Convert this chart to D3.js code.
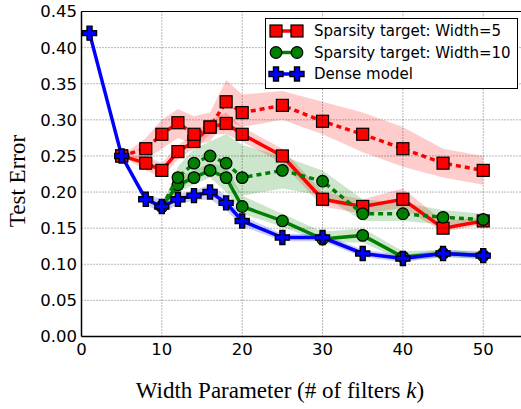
<!DOCTYPE html>
<head>
  <meta charset="utf-8">
  <script src="https://d3js.org/d3.v7.min.js"></script>
  <style>
    body { margin: 0; background: white; }
    .tick-label { font-family: "DejaVu Sans", sans-serif; font-size: 16.5px; fill: black; }
    .axis-title { font-family: "Liberation Serif", "Times New Roman", serif; font-size: 23px; fill: black; }
    .legend-text { font-family: "DejaVu Sans", sans-serif; font-size: 15px; fill: black; }
  </style>
</head>

<body>
  <script>

    // --- data ---
    var kSparse = [5, 8, 10, 12, 14, 16, 18, 20, 25, 30, 35, 40, 45, 50];
    var w5Solid = [0.25, 0.24, 0.23, 0.256, 0.27, 0.29, 0.295, 0.28, 0.25, 0.19, 0.18, 0.19, 0.15, 0.16];
    var w5SolidLo = [0.25, 0.23, 0.22, 0.245, 0.26, 0.28, 0.28, 0.27, 0.24, 0.18, 0.17, 0.178, 0.145, 0.155];
    var w5SolidHi = [0.25, 0.25, 0.24, 0.265, 0.28, 0.30, 0.31, 0.29, 0.26, 0.20, 0.19, 0.205, 0.16, 0.165];
    var w5Dash = [0.25, 0.26, 0.28, 0.296, 0.28, 0.29, 0.325, 0.31, 0.32, 0.298, 0.28, 0.26, 0.24, 0.23];
    var w5DashLo = [0.25, 0.245, 0.26, 0.275, 0.265, 0.27, 0.30, 0.29, 0.30, 0.28, 0.255, 0.235, 0.22, 0.21];
    var w5DashHi = [0.25, 0.275, 0.30, 0.315, 0.305, 0.31, 0.355, 0.335, 0.34, 0.325, 0.31, 0.29, 0.26, 0.25];

    var kW10 = [10, 12, 14, 16, 18, 20, 25, 30, 35, 40, 45, 50];
    var w10Solid = [0.18, 0.21, 0.22, 0.23, 0.22, 0.18, 0.16, 0.135, 0.14, 0.11, 0.115, 0.112];
    var w10SolidLo = [0.18, 0.20, 0.21, 0.22, 0.20, 0.17, 0.152, 0.13, 0.13, 0.105, 0.11, 0.108];
    var w10SolidHi = [0.18, 0.22, 0.23, 0.24, 0.235, 0.195, 0.17, 0.145, 0.15, 0.118, 0.12, 0.118];
    var w10Dash = [0.18, 0.22, 0.24, 0.25, 0.24, 0.22, 0.23, 0.215, 0.17, 0.17, 0.165, 0.162];
    var w10DashLo = [0.18, 0.20, 0.22, 0.23, 0.22, 0.195, 0.205, 0.195, 0.16, 0.16, 0.155, 0.155];
    var w10DashHi = [0.18, 0.235, 0.26, 0.27, 0.28, 0.265, 0.25, 0.23, 0.19, 0.185, 0.175, 0.17];

    var kDense = [1, 5, 8, 10, 12, 14, 16, 18, 20, 25, 30, 35, 40, 45, 50];
    var dense = [0.42, 0.25, 0.19, 0.18, 0.19, 0.195, 0.2, 0.185, 0.16, 0.137, 0.137, 0.115, 0.108, 0.115, 0.112];
    var denseLo = [0.42, 0.25, 0.183, 0.17, 0.183, 0.188, 0.19, 0.175, 0.153, 0.132, 0.132, 0.11, 0.103, 0.11, 0.107];
    var denseHi = [0.42, 0.25, 0.197, 0.19, 0.197, 0.202, 0.21, 0.195, 0.167, 0.142, 0.142, 0.12, 0.113, 0.12, 0.117];

    var xTicks = [0, 10, 20, 30, 40, 50];
    var yTicks = [0, 0.05, 0.10, 0.15, 0.20, 0.25, 0.30, 0.35, 0.40, 0.45];
    var legendLabels = ["Sparsity target: Width=5", "Sparsity target: Width=10", "Dense model"];

    var svg = d3.select("body").append("svg")
      .attr("width", 521)
      .attr("height", 409);

    var x = d3.scaleLinear().domain([0, 55]).range([81.5, 523.4]);
    var y = d3.scaleLinear().domain([0, 0.45]).range([336.5, 11.5]);

    function zip(ks, vs) {
      return ks.map(function(k, i) { return {k: k, v: vs[i]}; });
    }
    function zipBand(ks, lo, hi) {
      return ks.map(function(k, i) { return {k: k, lo: lo[i], hi: hi[i]}; });
    }

    var line = d3.line()
      .x(function(d) { return x(d.k); })
      .y(function(d) { return y(d.v); });

    var area = d3.area()
      .x(function(d) { return x(d.k); })
      .y0(function(d) { return y(d.lo); })
      .y1(function(d) { return y(d.hi); });

    var series = [
      {k: kSparse, v: w5Solid, lo: w5SolidLo, hi: w5SolidHi, color: "#ff0000", dash: null, marker: "square"},
      {k: kSparse, v: w5Dash, lo: w5DashLo, hi: w5DashHi, color: "#ff0000", dash: "5,4", marker: "square"},
      {k: kW10, v: w10Solid, lo: w10SolidLo, hi: w10SolidHi, color: "#008000", dash: null, marker: "circle"},
      {k: kW10, v: w10Dash, lo: w10DashLo, hi: w10DashHi, color: "#008000", dash: "5,4", marker: "circle"},
      {k: kDense, v: dense, lo: denseLo, hi: denseHi, color: "#0000ff", dash: null, marker: "plus"}
    ];

    var plot = svg.append("g");

    // bands first
    series.forEach(function(s) {
      plot.append("path")
        .datum(zipBand(s.k, s.lo, s.hi))
        .attr("d", area)
        .attr("fill", s.color)
        .attr("fill-opacity", 0.2)
        .attr("stroke", "none");
    });

    var plusPath = "M-2.5,-7H2.5V-2.5H7V2.5H2.5V7H-2.5V2.5H-7V-2.5H-2.5Z";

    function drawMarker(g, type, cx, cy, color) {
      if (type == "square") {
        g.append("rect")
          .attr("x", cx - 6).attr("y", cy - 6)
          .attr("width", 12).attr("height", 12)
          .attr("fill", color).attr("stroke", "#000").attr("stroke-width", 1.2);
      } else if (type == "circle") {
        g.append("circle")
          .attr("cx", cx).attr("cy", cy).attr("r", 5.8)
          .attr("fill", color).attr("stroke", "#000").attr("stroke-width", 1.2);
      } else {
        g.append("path")
          .attr("d", plusPath)
          .attr("transform", "translate(" + cx + "," + cy + ")")
          .attr("fill", color).attr("stroke", "#000").attr("stroke-width", 1.4);
      }
    }

    series.forEach(function(s) {
      var pts = zip(s.k, s.v);
      plot.append("path")
        .datum(pts)
        .attr("d", line)
        .attr("fill", "none")
        .attr("stroke", s.color)
        .attr("stroke-width", 3.5)
        .style("stroke-dasharray", s.dash);
      pts.forEach(function(d) {
        drawMarker(plot, s.marker, x(d.k), y(d.v), s.color);
      });
    });

    // grid (drawn above the data, like the original)
    svg.selectAll(".gx").data(xTicks.slice(1)).enter().append("line")
      .attr("x1", function(d) { return x(d); })
      .attr("x2", function(d) { return x(d); })
      .attr("y1", y(0)).attr("y2", y(0.45))
      .attr("stroke", "#000").attr("stroke-width", 1)
      .style("stroke-dasharray", "1,2").style("opacity", 0.55);

    svg.selectAll(".gy").data(yTicks.slice(1)).enter().append("line")
      .attr("x1", x(0)).attr("x2", 521)
      .attr("y1", function(d) { return y(d); })
      .attr("y2", function(d) { return y(d); })
      .attr("stroke", "#000").attr("stroke-width", 1)
      .style("stroke-dasharray", "1,2").style("opacity", 0.55);

    // spines
    svg.append("line").attr("x1", x(0)).attr("x2", 521).attr("y1", y(0)).attr("y2", y(0))
      .attr("stroke", "#000").attr("stroke-width", 1.5);
    svg.append("line").attr("x1", x(0)).attr("x2", 521).attr("y1", y(0.45)).attr("y2", y(0.45))
      .attr("stroke", "#000").attr("stroke-width", 1);
    svg.append("line").attr("x1", x(0)).attr("x2", x(0)).attr("y1", y(0)).attr("y2", y(0.45))
      .attr("stroke", "#000").attr("stroke-width", 1.5);

    // tick labels
    svg.selectAll(".xl").data(xTicks).enter().append("text")
      .attr("class", "tick-label")
      .attr("x", function(d) { return x(d); })
      .attr("y", 355)
      .attr("text-anchor", "middle")
      .text(function(d) { return d; });

    svg.selectAll(".yl").data(yTicks).enter().append("text")
      .attr("class", "tick-label")
      .attr("x", 77)
      .attr("y", function(d) { return y(d); })
      .attr("dy", "0.36em")
      .attr("text-anchor", "end")
      .text(function(d) { return d3.format(".2f")(d); });

    // axis titles
    var xt = svg.append("text")
      .attr("class", "axis-title")
      .attr("x", 280)
      .attr("y", 398)
      .attr("text-anchor", "middle");
    xt.append("tspan").text("Width Parameter (# of filters ");
    xt.append("tspan").style("font-style", "italic").text("k");
    xt.append("tspan").text(")");

    svg.append("text")
      .attr("class", "axis-title")
      .attr("transform", "translate(25,181) rotate(-90)")
      .attr("text-anchor", "middle")
      .text("Test Error");

    // legend
    var legend = svg.append("g");
    legend.append("rect")
      .attr("x", 265.5).attr("y", 18.5)
      .attr("width", 252).attr("height", 70)
      .attr("fill", "white").attr("stroke", "#000").attr("stroke-width", 1);

    var legendSeries = [series[0], series[2], series[4]];
    legendLabels.forEach(function(label, i) {
      var ly = 31 + i * 21.5;
      var s = legendSeries[i];
      legend.append("line")
        .attr("x1", 276).attr("x2", 297)
        .attr("y1", ly).attr("y2", ly)
        .attr("stroke", s.color).attr("stroke-width", 3.5);
      drawMarker(legend, s.marker, 276, ly, s.color);
      drawMarker(legend, s.marker, 297, ly, s.color);
      legend.append("text")
        .attr("class", "legend-text")
        .attr("x", 314)
        .attr("y", ly)
        .attr("dy", "0.36em")
        .text(label);
    });

  </script>
</body>
